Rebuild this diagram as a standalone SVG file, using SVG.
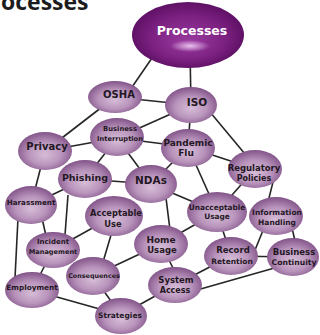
<svg xmlns="http://www.w3.org/2000/svg" width="320" height="335" viewBox="0 0 320 335">
<defs>
<radialGradient id="gn" cx="50%" cy="55%" r="55%" fx="50%" fy="60%">
<stop offset="0" stop-color="#d6bdd7"/>
<stop offset="0.55" stop-color="#b994bc"/>
<stop offset="1" stop-color="#825489"/>
</radialGradient>
<radialGradient id="gp" cx="50%" cy="50%" r="55%" fx="50%" fy="62%">
<stop offset="0" stop-color="#9a3aa0"/>
<stop offset="0.6" stop-color="#7c2182"/>
<stop offset="1" stop-color="#580c5e"/>
</radialGradient>
<radialGradient id="gh" cx="50%" cy="50%" r="50%">
<stop offset="0" stop-color="#ecc8f0" stop-opacity="0.95"/>
<stop offset="1" stop-color="#ecc8f0" stop-opacity="0"/>
</radialGradient>
<style>
.n{fill:url(#gn);}
.t{font-family:"DejaVu Sans",Verdana,sans-serif;font-weight:bold;fill:#241724;text-anchor:middle;}
.e line{stroke:#262626;stroke-width:1.6;}
</style>
</defs>
<rect width="320" height="335" fill="#ffffff"/>
<text x="1" y="9.5" font-family="'Open Sans','Noto Sans',sans-serif" font-weight="bold" font-size="23" fill="#1c1c1c">ocesses</text>
<g class="e" id="connectors">
<line x1="152" y1="58" x2="130" y2="90"/>
<line x1="190" y1="50" x2="191" y2="105"/>
<line x1="115" y1="97" x2="191" y2="105"/>
<line x1="115" y1="97" x2="45" y2="151"/>
<line x1="191" y1="105" x2="117" y2="138"/>
<line x1="191" y1="105" x2="188" y2="147"/>
<line x1="210" y1="112" x2="250" y2="160"/>
<line x1="117" y1="138" x2="45" y2="151"/>
<line x1="117" y1="138" x2="188" y2="147"/>
<line x1="117" y1="138" x2="85" y2="179"/>
<line x1="117" y1="138" x2="151" y2="184"/>
<line x1="45" y1="151" x2="31" y2="205"/>
<line x1="85" y1="179" x2="31" y2="205"/>
<line x1="85" y1="179" x2="151" y2="184"/>
<line x1="68" y1="195" x2="65" y2="235"/>
<line x1="42" y1="218" x2="46" y2="236"/>
<line x1="18" y1="218" x2="15" y2="278"/>
<line x1="53" y1="250" x2="32" y2="290"/>
<line x1="53" y1="250" x2="114" y2="216"/>
<line x1="114" y1="225" x2="103" y2="262"/>
<line x1="151" y1="184" x2="188" y2="147"/>
<line x1="166" y1="198" x2="170" y2="230"/>
<line x1="151" y1="184" x2="217" y2="212"/>
<line x1="188" y1="147" x2="217" y2="212"/>
<line x1="188" y1="147" x2="255" y2="169"/>
<line x1="255" y1="169" x2="217" y2="212"/>
<line x1="273" y1="182" x2="268" y2="202"/>
<line x1="217" y1="212" x2="161" y2="244"/>
<line x1="217" y1="212" x2="231" y2="256"/>
<line x1="264" y1="228" x2="255" y2="250"/>
<line x1="292" y1="228" x2="296" y2="245"/>
<line x1="231" y1="256" x2="293" y2="257"/>
<line x1="231" y1="256" x2="175" y2="285"/>
<line x1="190" y1="292" x2="285" y2="265"/>
<line x1="168" y1="258" x2="174" y2="270"/>
<line x1="161" y1="244" x2="93" y2="276"/>
<line x1="93" y1="276" x2="121" y2="315"/>
<line x1="32" y1="290" x2="121" y2="315"/>
<line x1="121" y1="315" x2="175" y2="285"/>
</g>
<g id="processes">
<ellipse cx="188" cy="35" rx="56" ry="33" fill="url(#gp)"/>
<ellipse cx="190" cy="46" rx="20" ry="6" fill="url(#gh)"/>
<text x="192" y="35" font-family="'DejaVu Sans',Verdana,sans-serif" font-weight="bold" font-size="12.5" fill="#ffffff" text-anchor="middle">Processes</text>
</g>
<g id="osha"><ellipse class="n" cx="115" cy="97" rx="27" ry="16"/><text class="t" x="119" y="98" font-size="10">OSHA</text></g>
<g id="iso"><ellipse class="n" cx="191" cy="105" rx="26" ry="18"/><text class="t" x="197" y="106" font-size="10.5">ISO</text></g>
<g id="business-interruption"><ellipse class="n" cx="117" cy="137" rx="27" ry="19"/><text class="t" x="120" y="131" font-size="6.8">Business</text><text class="t" x="120" y="141" font-size="6.7">Interruption</text></g>
<g id="pandemic-flu"><ellipse class="n" cx="188" cy="148" rx="27" ry="19"/><text class="t" x="188" y="146" font-size="9">Pandemic</text><text class="t" x="186" y="156" font-size="9">Flu</text></g>
<g id="privacy"><ellipse class="n" cx="45" cy="151" rx="27" ry="19"/><text class="t" x="47" y="150" font-size="10">Privacy</text></g>
<g id="phishing"><ellipse class="n" cx="85" cy="179" rx="27" ry="19"/><text class="t" x="85" y="181" font-size="9.5">Phishing</text></g>
<g id="ndas"><ellipse class="n" cx="151" cy="184" rx="26" ry="19"/><text class="t" x="151" y="184" font-size="10.5">NDAs</text></g>
<g id="regulatory-policies"><ellipse class="n" cx="255" cy="169" rx="27" ry="19"/><text class="t" x="254" y="171" font-size="8.5">Regulatory</text><text class="t" x="254" y="181" font-size="8">Policies</text></g>
<g id="harassment"><ellipse class="n" cx="31" cy="205" rx="26" ry="19"/><text class="t" x="31" y="205" font-size="7.2">Harassment</text></g>
<g id="acceptable-use"><ellipse class="n" cx="114" cy="216" rx="29" ry="20"/><text class="t" x="116" y="216" font-size="8.3">Acceptable</text><text class="t" x="113" y="227" font-size="8.3">Use</text></g>
<g id="unacceptable-usage"><ellipse class="n" cx="217" cy="212" rx="30" ry="20"/><text class="t" x="217" y="210" font-size="7.4">Unacceptable</text><text class="t" x="217" y="219" font-size="7.4">Usage</text></g>
<g id="information-handling"><ellipse class="n" cx="276" cy="216" rx="27" ry="19"/><text class="t" x="277" y="215" font-size="7.5">Information</text><text class="t" x="277" y="225" font-size="7.5">Handling</text></g>
<g id="incident-management"><ellipse class="n" cx="53" cy="250" rx="27" ry="18"/><text class="t" x="53" y="244" font-size="7">Incident</text><text class="t" x="53" y="254" font-size="6.6">Management</text></g>
<g id="home-usage"><ellipse class="n" cx="161" cy="244" rx="27" ry="19"/><text class="t" x="161" y="243" font-size="9">Home</text><text class="t" x="162" y="253" font-size="8.5">Usage</text></g>
<g id="record-retention"><ellipse class="n" cx="231" cy="256" rx="27" ry="19"/><text class="t" x="233" y="253" font-size="8.5">Record</text><text class="t" x="232" y="264" font-size="7.5">Retention</text></g>
<g id="business-continuity"><ellipse class="n" cx="293" cy="257" rx="26" ry="19"/><text class="t" x="294" y="255" font-size="8.5">Business</text><text class="t" x="294" y="265" font-size="7.7">Continuity</text></g>
<g id="consequences"><ellipse class="n" cx="93" cy="276" rx="27" ry="19"/><text class="t" x="94" y="278" font-size="6.4">Consequences</text></g>
<g id="employment"><ellipse class="n" cx="32" cy="290" rx="27" ry="18"/><text class="t" x="32" y="290" font-size="7.3">Employment</text></g>
<g id="system-access"><ellipse class="n" cx="175" cy="285" rx="27" ry="18"/><text class="t" x="176" y="283" font-size="8.5">System</text><text class="t" x="175" y="293" font-size="8">Access</text></g>
<g id="strategies"><ellipse class="n" cx="121" cy="316" rx="26" ry="18"/><text class="t" x="120" y="318" font-size="7.5">Strategies</text></g>
</svg>
